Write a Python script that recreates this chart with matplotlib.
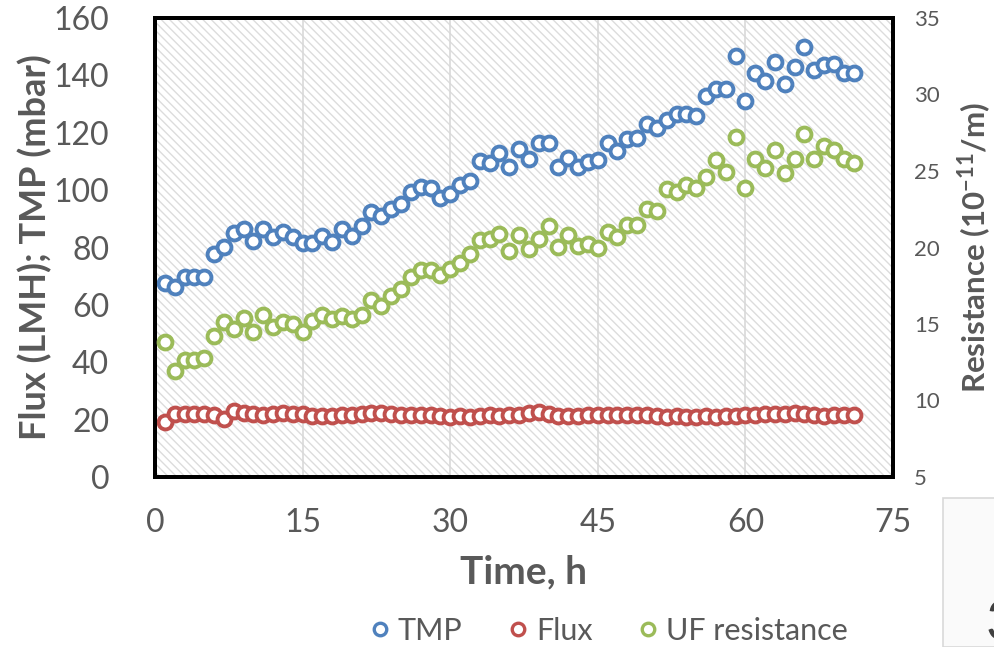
import matplotlib
matplotlib.use("Agg")
import matplotlib.pyplot as plt
from matplotlib.patches import Rectangle
from matplotlib.lines import Line2D

plt.rcParams['font.family'] = ['Lato', 'DejaVu Sans']
plt.rcParams['mathtext.fontset'] = 'custom'
plt.rcParams['mathtext.rm'] = 'Lato'
plt.rcParams['mathtext.bf'] = 'Lato:bold'
plt.rcParams['hatch.color'] = '#dcdcdc'
plt.rcParams['hatch.linewidth'] = 1.0

time_h = list(range(1, 72))
tmp = [67.5, 66.3, 69.8, 69.8, 69.8, 77.7, 80.0, 84.9, 86.6, 82.2,
       86.6, 83.7, 85.5, 83.5, 81.4, 81.4, 84.1, 82.0, 86.3, 84.1,
       87.5, 92.4, 90.9, 93.5, 95.0, 99.4, 101.0, 100.8, 97.3, 98.8,
       101.7, 103.2, 110.2, 109.6, 112.8, 108.1, 114.3, 110.8, 116.3, 116.3,
       108.1, 111.3, 108.1, 109.9, 110.5, 116.3, 113.7, 117.8, 118.0, 122.9,
       121.8, 124.4, 126.5, 126.5, 125.9, 132.7, 135.4, 135.4, 146.8, 131.0,
       141.0, 138.0, 144.5, 137.0, 143.0, 150.0, 141.8, 143.5, 143.8, 141.0,
       141.0]
flux = [19.3, 22.0, 21.8, 21.8, 21.8, 21.6, 20.3, 23.0, 22.2, 22.0,
        21.6, 22.0, 22.2, 21.8, 22.0, 21.3, 21.3, 21.3, 21.6, 21.6,
        22.0, 22.2, 22.2, 21.8, 21.6, 21.6, 21.6, 21.6, 21.3, 20.8,
        21.3, 20.8, 21.3, 21.6, 21.3, 21.6, 21.6, 22.3, 22.6, 21.8,
        21.3, 21.3, 21.3, 21.6, 21.6, 21.6, 21.6, 21.6, 21.6, 21.6,
        21.3, 20.8, 21.3, 20.8, 20.8, 21.3, 20.8, 21.3, 21.3, 21.6,
        21.6, 21.8, 21.8, 21.8, 22.3, 21.8, 21.6, 21.3, 21.6, 21.6,
        21.6]
uf_res = [13.84, 11.9, 12.65, 12.65, 12.8, 14.2, 15.15, 14.7, 15.4, 14.5,
          15.6, 14.8, 15.15, 15.0, 14.5, 15.2, 15.6, 15.3, 15.5, 15.3,
          15.6, 16.6, 16.2, 16.8, 17.3, 18.1, 18.5, 18.5, 18.2, 18.6,
          19.0, 19.6, 20.5, 20.55, 20.9, 19.8, 20.8, 19.9, 20.55, 21.4,
          20.05, 20.8, 20.1, 20.2, 20.0, 21.0, 20.7, 21.5, 21.5, 22.5,
          22.4, 23.8, 23.6, 24.1, 23.9, 24.6, 25.7, 24.95, 27.2, 23.9,
          25.8, 25.2, 26.4, 24.85, 25.8, 27.4, 25.8, 26.65, 26.4, 25.8,
          25.5]

x_ticks = [0, 15, 30, 45, 60, 75]
left_ticks = [0, 20, 40, 60, 80, 100, 120, 140, 160]
right_ticks = [5, 10, 15, 20, 25, 30, 35]

c_tmp = '#4f81bd'
c_flux = '#c0504d'
c_uf = '#9bbb59'
txt = '#595959'

fig = plt.figure(figsize=(9.94, 6.47), dpi=100)
ax = fig.add_axes([155/994, 1-477/647, (893-155)/994, (477-18)/647])
ax2 = ax.twinx()

# hatched background
ax.patch.set_facecolor('white')
bg = Rectangle((0, 0), 1, 1, transform=ax.transAxes, facecolor='white',
               edgecolor='#dcdcdc', hatch='\\\\\\\\', linewidth=0, zorder=0)
ax.add_patch(bg)

for xv in x_ticks[1:-1]:
    ax.axvline(xv, color='#d9d9d9', lw=1.2, zorder=1)

mk = dict(marker='o', linestyle='none', markersize=10, markeredgewidth=2.8,
          markerfacecolor='white')
ax.plot(time_h, tmp, color=c_tmp, markeredgecolor=c_tmp, zorder=3, **mk)
ax.plot(time_h, flux, color=c_flux, markeredgecolor=c_flux, zorder=3, **mk)
ax2.plot(time_h, uf_res, color=c_uf, markeredgecolor=c_uf, zorder=3, **mk)

ax.set_xlim(0, 75)
ax.set_ylim(0, 160)
ax2.set_ylim(5, 35)
ax.set_xticks(x_ticks)
ax.set_yticks(left_ticks)
ax2.set_yticks(right_ticks)

ax.tick_params(axis='both', length=0, labelsize=23, labelcolor=txt)
ax.tick_params(axis='y', pad=33)
ax.tick_params(axis='x', pad=22)
ax2.tick_params(axis='y', length=0, labelsize=16, labelcolor=txt, pad=15)

for sp in ax.spines.values():
    sp.set_color('black')
    sp.set_linewidth(2.8)
for sp in ax2.spines.values():
    sp.set_color('black')
    sp.set_linewidth(2.8)

ax.set_xlabel('Time, h', fontsize=28, fontweight='bold', color=txt, labelpad=12)
ax.set_ylabel('Flux (LMH); TMP (mbar)', fontsize=26, fontweight='bold',
              color=txt, labelpad=1)
ax2.set_ylabel(r'Resistance (10$^{\mathbf{-11}}$/m)', fontsize=22.5,
               fontweight='bold', color=txt, labelpad=12)

handles = [Line2D([], [], color=c, marker='o', linestyle='none', markersize=9,
                  markeredgewidth=2.4, markerfacecolor='white')
           for c in (c_tmp, c_flux, c_uf)]
leg = fig.legend(handles, ['TMP', 'Flux', 'UF resistance'], ncol=3,
                 loc='center', bbox_to_anchor=(606/994, 1-631/647),
                 frameon=False, fontsize=22, handletextpad=0.1,
                 columnspacing=1.3, handlelength=1.0)
for t in leg.get_texts():
    t.set_color(txt)

# partial panel at bottom right
fig.patches.append(Rectangle((943/994, 0), 60/994, 1-498/647,
                             transform=fig.transFigure, facecolor='#fafafa',
                             edgecolor='#d9d9d9', linewidth=1.2))
fig.text(986/994, 1-640/647, '3', fontsize=40, color='#404040',
         ha='left', va='baseline')

fig.savefig('out.png', dpi=100)
